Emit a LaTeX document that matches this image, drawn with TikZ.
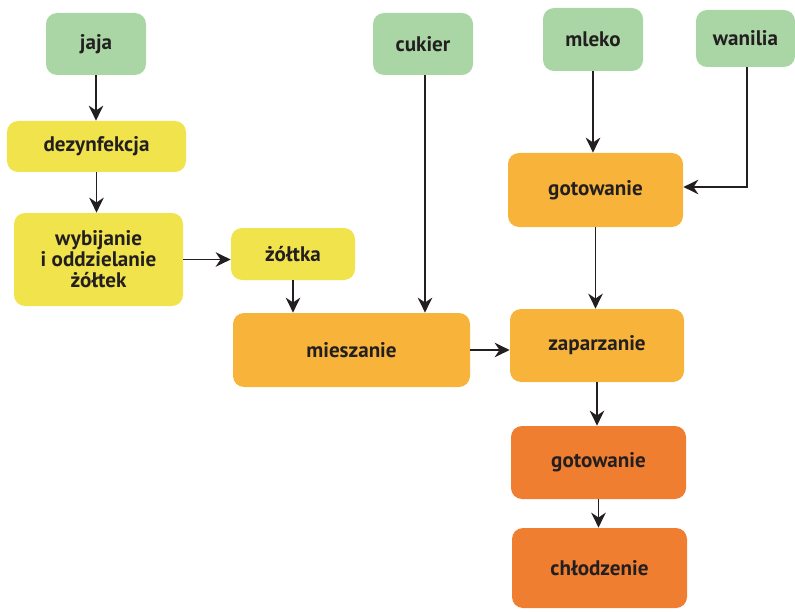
\documentclass[tikz,border=0pt]{standalone}
\usepackage{fontspec}
\setmainfont{PT Sans}
\usetikzlibrary{arrows.meta}
\definecolor{ingr}{HTML}{A9D6A4}
\definecolor{prep}{HTML}{F0E34B}
\definecolor{proc}{HTML}{F8B43A}
\definecolor{heat}{HTML}{F07E30}
\definecolor{ink}{HTML}{231F20}
\begin{document}
\begin{tikzpicture}[
    every node/.style={font=\bfseries\large, text=ink, align=center},
    box/.style={rounded corners=2.2mm, inner sep=2pt},
    arr/.style={-{Stealth[length=3mm,width=2.9mm]}, line width=1.1pt, draw=ink}
]
\useasboundingbox (0,0) rectangle (15.9,-12.24);
% ingredients
\node[box, fill=ingr, minimum width=2.0cm, minimum height=1.24cm] (jaja) at (1.92,-0.88) {jaja};
\node[box, fill=ingr, minimum width=2.0cm, minimum height=1.24cm] (cukier) at (8.46,-0.88) {cukier};
\node[box, fill=ingr, minimum width=2.0cm, minimum height=1.26cm] (mleko) at (11.86,-0.79) {mleko};
\node[box, fill=ingr, minimum width=1.98cm, minimum height=1.14cm] (wanilia) at (14.91,-0.77) {wanilia};
% egg preparation
\node[box, fill=prep, minimum width=3.58cm, minimum height=1.02cm] (dezynf) at (1.93,-2.93) {dezynfekcja};
\node[box, fill=prep, minimum width=3.38cm, minimum height=1.86cm] (wybij) at (1.97,-5.19) {wybijanie\\[-2pt]i oddzielanie\\[-2pt]żółtek};
\node[box, fill=prep, minimum width=2.48cm, minimum height=1.04cm] (zoltka) at (5.86,-5.08) {żółtka};
% processing
\node[box, fill=proc, minimum width=4.74cm, minimum height=1.48cm] (miesz) at (7.03,-7.0) {mieszanie};
\node[box, fill=proc, minimum width=3.5cm, minimum height=1.48cm] (gotow1) at (11.91,-3.8) {gotowanie};
\node[box, fill=proc, minimum width=3.48cm, minimum height=1.46cm] (zapar) at (11.94,-6.91) {zaparzanie};
\node[box, fill=heat, minimum width=3.5cm, minimum height=1.46cm] (gotow2) at (11.97,-9.25) {gotowanie};
\node[box, fill=heat, minimum width=3.5cm, minimum height=1.6cm] (chlodz) at (11.99,-11.36) {chłodzenie};

% Arrows
\draw[arr] (jaja.south) -- (jaja.south |- dezynf.north);
\draw[arr] (dezynf.south) -- (dezynf.south |- wybij.north);
\draw[arr] (wybij.east) -- (wybij.east -| zoltka.west);
\draw[arr] (zoltka.south) -- (zoltka.south |- miesz.north);
\draw[arr] ([xshift=0.04cm]cukier.south) -- ([xshift=0.04cm]cukier.south |- miesz.north);
\draw[arr] (miesz.east) -- (miesz.east -| zapar.west);
\draw[arr] (mleko.south) -- (mleko.south |- gotow1.north);
\draw[arr] ([xshift=0.03cm]wanilia.south) |- ([yshift=0.06cm]gotow1.east);
\draw[arr] (gotow1.south) -- (gotow1.south |- zapar.north);
\draw[arr] (zapar.south) -- (zapar.south |- gotow2.north);
\draw[arr] (gotow2.south) -- (gotow2.south |- chlodz.north);
\end{tikzpicture}
\end{document}
